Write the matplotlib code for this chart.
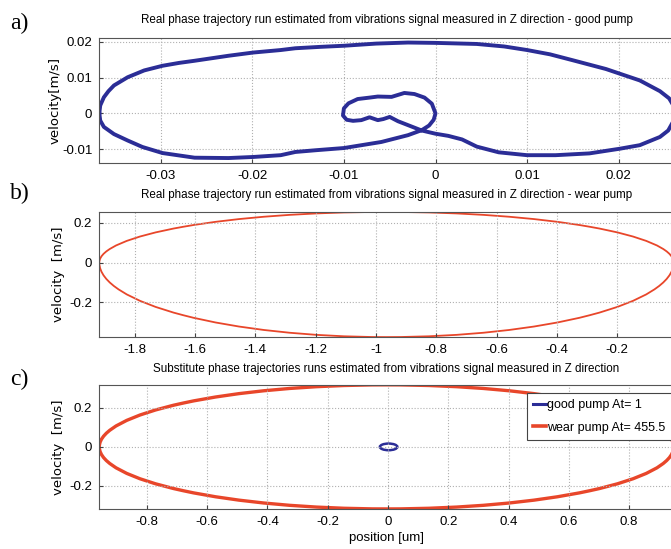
import numpy as np
import matplotlib
matplotlib.use('Agg')
import matplotlib.pyplot as plt
from matplotlib.patches import Ellipse, Arc
from matplotlib.lines import Line2D

plt.rcParams['font.family'] = ['Liberation Sans', 'DejaVu Sans']

# a) good pump - phase trajectory points (position, velocity)
a_pos = [-0.0367, -0.0366, -0.0362, -0.0357, -0.0351, -0.0336, -0.0318, -0.0298, -0.0280,
         -0.0263, -0.0226, -0.0199, -0.0169, -0.0153, -0.0125, -0.0100, -0.0065, -0.0030,
         0.0000, 0.0045, 0.0075, 0.0100, 0.0125, 0.0149, 0.0186, 0.0223, 0.0245, 0.0255,
         0.0259, 0.0260, 0.0259, 0.0254, 0.0245, 0.0223, 0.0201, 0.0168, 0.0131, 0.0100,
         0.0069, 0.0045, 0.0029, 0.0014, 0.0000, -0.0015, -0.0029, -0.0041, -0.0050, -0.0057,
         -0.0063, -0.0072, -0.0081, -0.0090, -0.0097, -0.0101, -0.0100, -0.0095, -0.0085,
         -0.0072, -0.0063, -0.0048, -0.0034, -0.0023, -0.0012, -0.0004, 0.0000, -0.0002,
         -0.0007, -0.0015, -0.0030, -0.0059, -0.0100, -0.0130, -0.0153, -0.0169, -0.0199,
         -0.0226, -0.0263, -0.0298, -0.0320, -0.0336, -0.0351, -0.0362, -0.0366, -0.0367]
a_vel = [0.0000, 0.0022, 0.0045, 0.0062, 0.0078, 0.0101, 0.0120, 0.0133, 0.0141,
         0.0147, 0.0161, 0.0170, 0.0177, 0.0182, 0.0186, 0.0189, 0.0195, 0.0198,
         0.0197, 0.0194, 0.0187, 0.0177, 0.0165, 0.0149, 0.0124, 0.0092, 0.0062, 0.0042,
         0.0025, 0.0000, -0.0025, -0.0048, -0.0066, -0.0089, -0.0099, -0.0112, -0.0117, -0.0117,
         -0.0109, -0.0093, -0.0073, -0.0063, -0.0057, -0.0048, -0.0034, -0.0022, -0.0010, -0.0016,
         -0.0019, -0.0011, -0.0019, -0.0021, -0.0018, -0.0006, 0.0014, 0.0028, 0.0040,
         0.0044, 0.0047, 0.0046, 0.0057, 0.0054, 0.0044, 0.0027, 0.0000, -0.0018,
         -0.0034, -0.0047, -0.0061, -0.0080, -0.0097, -0.0103, -0.0108, -0.0117, -0.0122,
         -0.0125, -0.0124, -0.0111, -0.0094, -0.0076, -0.0058, -0.0038, -0.0020, 0.0000]

# b) wear pump - egg shaped loop: centre, half width, upper and lower amplitude
b_center = -0.965
b_halfwidth = 0.952
b_upper = 0.256
b_lower = 0.377

# c) substitute trajectories (ellipses): half width, half height
c_wear = (0.953, 0.318)
c_wear_center = -0.005
c_good = (0.029, 0.017)
c_good_center = 0.002
c_labels = ['good pump At= 1', 'wear pump At= 455.5']

blue = '#2b2d96'
red = '#e8462a'

fig = plt.figure(figsize=(6.71, 5.49), dpi=100)

def style(ax):
    ax.grid(True, linestyle=':', color='#b0b0b0', linewidth=0.8)
    ax.tick_params(direction='in', length=3, labelsize=9.5, color='#444444', pad=5)
    for s in ax.spines.values():
        s.set_color('#555555')
        s.set_linewidth(0.8)

W = 0.856
ax1 = fig.add_axes([0.148, 0.703, W, 0.228])
ax2 = fig.add_axes([0.148, 0.386, W, 0.228])
ax3 = fig.add_axes([0.148, 0.073, W, 0.226])

title_fs = 8.4

# a
ax1.plot(a_pos, a_vel, color=blue, linewidth=2.8, solid_joinstyle='round')
ax1.set_xlim(-0.0367, 0.0260)
ax1.set_ylim(-0.0139, 0.0211)
ax1.set_xticks([-0.03, -0.02, -0.01, 0, 0.01, 0.02])
ax1.set_xticklabels(['-0.03', '-0.02', '-0.01', '0', '0.01', '0.02'])
ax1.set_yticks([-0.01, 0, 0.01, 0.02])
ax1.set_yticklabels(['-0.01', '0', '0.01', '0.02'])
ax1.set_ylabel('velocity[m/s]', family='DejaVu Sans', fontsize=9.5)
ax1.yaxis.set_label_coords(-0.066, 0.5)
ax1.set_title('Real phase trajectory run estimated from vibrations signal measured in Z direction - good pump',
              fontsize=title_fs, pad=11)
style(ax1)

# b
ax2.add_patch(Arc((b_center, 0), 2 * b_halfwidth, 2 * b_upper, theta1=0, theta2=180,
                  color=red, linewidth=1.3))
ax2.add_patch(Arc((b_center, 0), 2 * b_halfwidth, 2 * b_lower, theta1=180, theta2=360,
                  color=red, linewidth=1.3))
ax2.set_xlim(-1.917, -0.013)
ax2.set_ylim(-0.377, 0.256)
ax2.set_xticks([-1.8, -1.6, -1.4, -1.2, -1, -0.8, -0.6, -0.4, -0.2])
ax2.set_xticklabels(['-1.8', '-1.6', '-1.4', '-1.2', '-1', '-0.8', '-0.6', '-0.4', '-0.2'])
ax2.set_yticks([-0.2, 0, 0.2])
ax2.set_yticklabels(['-0.2', '0', '0.2'])
ax2.set_ylabel('velocity  [m/s]', family='DejaVu Sans', fontsize=9.5)
ax2.yaxis.set_label_coords(-0.06, 0.5)
ax2.set_title('Real phase trajectory run estimated from vibrations signal measured in Z direction - wear pump',
              fontsize=title_fs, pad=10)
style(ax2)

# c
ax3.add_patch(Ellipse((c_wear_center, 0), 2 * c_wear[0], 2 * c_wear[1], fill=False,
                      edgecolor=red, linewidth=2.4))
ax3.add_patch(Ellipse((c_good_center, 0), 2 * c_good[0], 2 * c_good[1], fill=False,
                      edgecolor=blue, linewidth=1.8))
ax3.set_xlim(-0.958, 0.948)
ax3.set_ylim(-0.318, 0.318)
ax3.set_xticks([-0.8, -0.6, -0.4, -0.2, 0, 0.2, 0.4, 0.6, 0.8])
ax3.set_xticklabels(['-0.8', '-0.6', '-0.4', '-0.2', '0', '0.2', '0.4', '0.6', '0.8'])
ax3.set_yticks([-0.2, 0, 0.2])
ax3.set_yticklabels(['-0.2', '0', '0.2'])
ax3.set_ylabel('velocity  [m/s]', family='DejaVu Sans', fontsize=9.5)
ax3.yaxis.set_label_coords(-0.06, 0.5)
ax3.set_xlabel('position [um]', fontsize=9.5, labelpad=3)
ax3.set_title('Substitute phase trajectories runs estimated from vibrations signal measured in Z direction',
              fontsize=title_fs, pad=9)
style(ax3)
handles = [Line2D([], [], color=blue, linewidth=2.2), Line2D([], [], color=red, linewidth=2.6)]
leg = ax3.legend(handles, c_labels, loc='upper right', bbox_to_anchor=(0.9965, 0.935),
                 fontsize=9, handlelength=1.0, handletextpad=0.1, borderpad=0.5,
                 labelspacing=0.85, fancybox=False, framealpha=1, borderaxespad=0)
leg.get_frame().set_edgecolor('#444444')
leg.get_frame().set_linewidth(0.8)

# panel letters
for y, t in [(0.958, 'a)'), (0.648, 'b)'), (0.308, 'c)')]:
    fig.text(0.015, y, t, family='Liberation Serif', fontsize=17, va='center')

fig.savefig('out.png', dpi=100)
